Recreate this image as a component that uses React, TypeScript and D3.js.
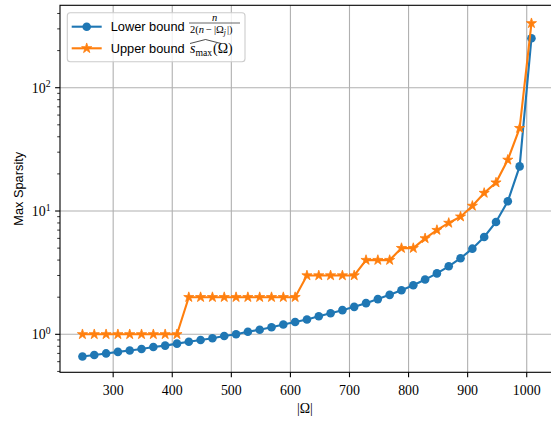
import React from "react";
import * as d3 from "d3";

// |Omega| sample points
const omega = [
  248, 268, 288, 308, 328, 348, 368, 388, 408, 428, 448, 468, 488, 508, 528,
  548, 568, 588, 608, 628, 648, 668, 688, 708, 728, 748, 768, 788, 808, 828,
  848, 868, 888, 908, 928, 948, 968, 988, 1008,
];

// lower bound n / (2(n - |Omega_j|))
const lowerBound = [
  0.66, 0.68, 0.7, 0.72, 0.74, 0.76, 0.79, 0.81, 0.84, 0.87, 0.9, 0.93, 0.97,
  1.0, 1.05, 1.09, 1.14, 1.2, 1.26, 1.32, 1.4, 1.48, 1.57, 1.67, 1.79, 1.93,
  2.09, 2.28, 2.5, 2.78, 3.12, 3.56, 4.14, 4.95, 6.16, 8.15, 12.0, 23.0, 252,
];

// upper bound s_max hat
const upperBound = [
  1, 1, 1, 1, 1, 1, 1, 1, 1, 2, 2, 2, 2, 2, 2, 2, 2, 2, 2, 3, 3, 3, 3, 3, 4, 4,
  4, 5, 5, 6, 7, 8, 9, 11, 14, 17, 26, 47, 333,
];

const xTicks = [300, 400, 500, 600, 700, 800, 900, 1000];
const yTicks = [1, 10, 100];

const W = 551;
const H = 422;
const left = 60;
const right = 553.9;
const top = 5.3;
const bottom = 372.3;

const blue = "#1f77b4";
const orange = "#ff7f0e";
const serif = "'Liberation Serif', 'Times New Roman', serif";
const sans = "'Liberation Sans', Arial, sans-serif";

const App = () => {
  const x = d3.scaleLinear().domain([210, 1046]).range([left, right]);
  const y = d3.scaleLog().domain([0.492, 466]).range([bottom, top]);

  const line = d3
    .line<number>()
    .x((_, i) => x(omega[i]))
    .y((d) => y(d));

  const star = d3.symbol().type(d3.symbolStar).size(32)()!;

  // minor log ticks
  const minor: number[] = [];
  for (const dec of [0.1, 1, 10, 100]) {
    for (let k = 2; k <= 9; k++) {
      const v = dec * k;
      if (v >= 0.492 && v <= 466) minor.push(v);
    }
  }

  return (
    <svg
      width={W}
      height={H}
      viewBox={`0 0 ${W} ${H}`}
      style={{ position: "absolute", left: 0, top: 0, background: "#fff" }}
    >
      {/* grid */}
      <g stroke="#b0b0b0" strokeWidth={1.1}>
        {xTicks.map((t) => (
          <line key={t} x1={x(t)} x2={x(t)} y1={top} y2={bottom} />
        ))}
        {yTicks.map((t) => (
          <line key={t} x1={left} x2={right} y1={y(t)} y2={y(t)} />
        ))}
      </g>

      {/* series */}
      <path d={line(lowerBound)!} fill="none" stroke={blue} strokeWidth={2.1} />
      {lowerBound.map((d, i) => (
        <circle key={i} cx={x(omega[i])} cy={y(d)} r={4.3} fill={blue} />
      ))}
      <path d={line(upperBound)!} fill="none" stroke={orange} strokeWidth={2.1} />
      {upperBound.map((d, i) => (
        <path
          key={i}
          d={star}
          transform={`translate(${x(omega[i])},${y(d)})`}
          fill={orange}
          stroke={orange}
          strokeWidth={0.8}
        />
      ))}

      {/* spines */}
      <rect
        x={left}
        y={top}
        width={right - left}
        height={bottom - top}
        fill="none"
        stroke="#000"
        strokeWidth={1.1}
      />

      {/* x axis ticks */}
      {xTicks.map((t) => (
        <g key={t}>
          <line x1={x(t)} x2={x(t)} y1={bottom} y2={bottom + 4.9} stroke="#000" strokeWidth={1.1} />
          <text
            x={x(t)}
            y={395}
            textAnchor="middle"
            fontFamily={serif}
            fontSize={13.9}
            fill="#000"
          >
            {t}
          </text>
        </g>
      ))}

      {/* y axis ticks */}
      {yTicks.map((t) => (
        <g key={t}>
          <line x1={left - 4.9} x2={left} y1={y(t)} y2={y(t)} stroke="#000" strokeWidth={1.1} />
          <text
            x={left - 9.5}
            y={y(t) + 5}
            textAnchor="end"
            fontFamily={serif}
            fontSize={13.9}
            fill="#000"
          >
            10
            <tspan fontSize={9.7} dy={-5.5}>
              {Math.round(Math.log10(t))}
            </tspan>
          </text>
        </g>
      ))}
      {minor.map((t) => (
        <line key={t} x1={left - 2.8} x2={left} y1={y(t)} y2={y(t)} stroke="#000" strokeWidth={0.8} />
      ))}

      {/* axis labels */}
      <text
        x={(left + right) / 2 - 2}
        y={413}
        textAnchor="middle"
        fontFamily={serif}
        fontSize={13.9}
        fill="#000"
      >
        |Ω|
      </text>
      <text
        transform={`translate(23,${(top + bottom) / 2}) rotate(-90)`}
        textAnchor="middle"
        fontFamily={sans}
        fontSize={12.8}
        fill="#000"
      >
        Max Sparsity
      </text>

      {/* legend */}
      <g>
        <rect
          x={67.3}
          y={12.7}
          width={177.7}
          height={49}
          rx={3}
          fill="#fff"
          fillOpacity={0.8}
          stroke="#cccccc"
          strokeWidth={1.1}
        />
        <line x1={71.7} x2={101.7} y1={26.7} y2={26.7} stroke={blue} strokeWidth={2.1} />
        <circle cx={86.7} cy={26.7} r={4.3} fill={blue} />
        <text x={110.7} y={31.3} fontFamily={sans} fontSize={12.8} fill="#000">
          Lower bound
        </text>
        <text x={214.5} y={20.5} textAnchor="middle" fontFamily={serif} fontSize={10.5} fontStyle="italic">
          n
        </text>
        <line x1={189} x2={240} y1={23} y2={23} stroke="#000" strokeWidth={0.6} />
        <text x={190} y={32.5} fontFamily={serif} fontSize={10.5}>
          2(<tspan fontStyle="italic">n</tspan>
          <tspan dx={2}>−</tspan>
          <tspan dx={2}>|Ω</tspan>
          <tspan fontSize={7.5} fontStyle="italic" dy={2}>
            j
          </tspan>
          <tspan dy={-2} dx={1}>|)</tspan>
        </text>

        <line x1={71.7} x2={101.7} y1={48.3} y2={48.3} stroke={orange} strokeWidth={2.1} />
        <path d={star} transform="translate(86.7,48.3)" fill={orange} stroke={orange} strokeWidth={0.8} />
        <text x={110.7} y={53} fontFamily={sans} fontSize={12.8} fill="#000">
          Upper bound
        </text>
        <path d="M190,43.5 L205.5,39.5 L221,43.5" fill="none" stroke="#000" strokeWidth={0.7} />
        <text x={190} y={53} fontFamily={serif} fontSize={13.9}>
          <tspan fontStyle="italic">s</tspan>
          <tspan fontSize={9.7} dy={2.5}>
            max
          </tspan>
          <tspan dy={-2.5} dx={1}>
            (Ω)
          </tspan>
        </text>
      </g>
    </svg>
  );
};

export default App;
